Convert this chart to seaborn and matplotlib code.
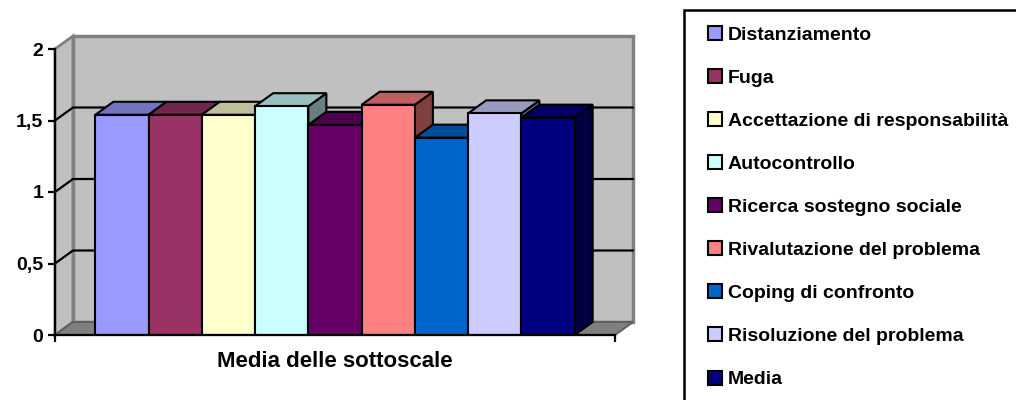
import numpy as np
import pandas as pd
import matplotlib
matplotlib.use("Agg")
import matplotlib.pyplot as plt
import seaborn as sns
from matplotlib.patches import Polygon, Rectangle, Patch
from matplotlib.legend_handler import HandlerPatch
from matplotlib import colors as mcolors

# ---------------- data ----------------
categories = ["Distanziamento", "Fuga", "Accettazione di responsabilità",
              "Autocontrollo", "Ricerca sostegno sociale",
              "Rivalutazione del problema", "Coping di confronto",
              "Risoluzione del problema", "Media"]
values = [1.54, 1.54, 1.54, 1.60, 1.47, 1.61, 1.38, 1.55, 1.52]
bar_colors = ["#9999FF", "#993366", "#FFFFCC", "#CCFFFF", "#660066",
              "#FF8080", "#0066CC", "#CCCCFF", "#000080"]
group_label = "Media delle sottoscale"
y_ticks = [0, 0.5, 1, 1.5, 2]
y_tick_labels = ["0", "0,5", "1", "1,5", "2"]

# ---------------- style ----------------
sns.set_theme(style="white")
plt.rcParams["font.family"] = ["Liberation Sans", "DejaVu Sans"]
plt.rcParams["font.weight"] = "bold"
for k in ["text.color", "axes.labelcolor", "xtick.color", "ytick.color"]:
    plt.rcParams[k] = "black"
FS_TICK = 14
FS_XLAB = 16
FS_LEG = 14

W, H = 1016, 400
fig = plt.figure(figsize=(W / 100, H / 100), dpi=100)
fig.patch.set_facecolor("white")

# front plane of the 3D box in pixels
px0, px1 = 55, 615
py_top, py_bot = 49, 335
ax = fig.add_axes([px0 / W, (H - py_bot) / H, (px1 - px0) / W, (py_bot - py_top) / H])
ax.set_facecolor("none")

df = pd.DataFrame({"group": [group_label] * len(values),
                   "value": values,
                   "category": categories})
sns.barplot(data=df, x="group", y="value", hue="category",
            hue_order=categories, palette=dict(zip(categories, bar_colors)),
            saturation=1, width=0.856, errorbar=None, dodge=True,
            edgecolor="black", linewidth=1.5, legend=False, ax=ax)
bars = list(ax.patches)

XL = (-0.5, 0.5)
YL = (0, 2)
ax.set_xlim(*XL)
ax.set_ylim(*YL)

# depth offset (data units)
ddx = 18 / (px1 - px0) * (XL[1] - XL[0])
ddy = 13 / (py_bot - py_top) * (YL[1] - YL[0])

wall_c = "#C0C0C0"
wall_edge = "#808080"
floor_c = "#808080"

# left side wall
ax.add_patch(Polygon([(XL[0], YL[0]), (XL[0] + ddx, YL[0] + ddy),
                      (XL[0] + ddx, YL[1] + ddy), (XL[0], YL[1])],
                     closed=True, facecolor=wall_c, edgecolor=wall_edge,
                     linewidth=2, zorder=0.5, clip_on=False))
# back wall
ax.add_patch(Rectangle((XL[0] + ddx, YL[0] + ddy), XL[1] - XL[0], YL[1] - YL[0],
                       facecolor=wall_c, edgecolor=wall_edge, linewidth=2.5,
                       zorder=0.5, clip_on=False))
# floor
ax.add_patch(Polygon([(XL[0], YL[0]), (XL[1], YL[0]),
                      (XL[1] + ddx, YL[0] + ddy), (XL[0] + ddx, YL[0] + ddy)],
                     closed=True, facecolor=floor_c, edgecolor="#606060",
                     linewidth=1.5, zorder=0.55, clip_on=False))
# gridlines on walls
for t in y_ticks[1:-1]:
    ax.plot([XL[0], XL[0] + ddx, XL[1] + ddx], [t, t + ddy, t + ddy],
            color="black", linewidth=1.6, zorder=0.6, clip_on=False)

# 3D faces of bars
for i, p in enumerate(bars):
    z = 3 + i * 0.1
    p.set_zorder(z)
    xl = p.get_x()
    w = p.get_width()
    h = p.get_height()
    fc = np.array(mcolors.to_rgb(p.get_facecolor()))
    top = Polygon([(xl, h), (xl + w, h), (xl + w + ddx, h + ddy), (xl + ddx, h + ddy)],
                  closed=True, facecolor=fc * 0.75, edgecolor="black",
                  linewidth=1.5, zorder=z - 0.01, clip_on=False)
    side = Polygon([(xl + w, 0), (xl + w + ddx, ddy), (xl + w + ddx, h + ddy), (xl + w, h)],
                   closed=True, facecolor=fc * 0.5, edgecolor="black",
                   linewidth=1.5, zorder=z - 0.02, clip_on=False)
    ax.add_patch(top)
    ax.add_patch(side)

# axes styling
for s in ["top", "right"]:
    ax.spines[s].set_visible(False)
for s in ["left", "bottom"]:
    ax.spines[s].set_color("black")
    ax.spines[s].set_linewidth(1.6)
    ax.spines[s].set_zorder(10)

ax.set_yticks(y_ticks)
ax.set_yticklabels(y_tick_labels, fontsize=FS_TICK, fontweight="bold")
ax.tick_params(axis="y", direction="out", length=5, width=1.6, pad=3.5,
               color="black", left=True)
ax.set_xticks([0])
ax.set_xticklabels([group_label], fontsize=FS_XLAB, fontweight="bold")
ax.set_xticks([XL[0], XL[1]], minor=True)
ax.tick_params(axis="x", which="major", length=0, pad=11.5)
ax.tick_params(axis="x", which="minor", direction="out", length=5, width=1.6,
               color="black", bottom=True)
ax.set_xlabel("")
ax.set_ylabel("")
ax.grid(False)

# legend frame (runs past the right and bottom edges of the figure)
fig.patches.append(Rectangle((684 / W, -0.05), 0.5, (H - 10) / H + 0.05,
                             transform=fig.transFigure, fill=False,
                             edgecolor="black", linewidth=1.8, clip_on=False))

def square_patch(legend, orig_handle, xdescent, ydescent, width, height, fontsize):
    return Rectangle((-xdescent + width - height, -ydescent), height, height)

handles = [Patch(facecolor=c, edgecolor="black", linewidth=1.5) for c in bar_colors]
leg = fig.legend(handles, categories, loc="upper left",
                 bbox_to_anchor=(708 / W, (H - 26) / H),
                 bbox_transform=fig.transFigure,
                 frameon=False, borderaxespad=0, borderpad=0,
                 prop={"weight": "bold", "size": FS_LEG},
                 handlelength=0.73, handleheight=0.73, handletextpad=0.28,
                 labelspacing=1.30,
                 handler_map={Patch: HandlerPatch(patch_func=square_patch)})
for t in leg.get_texts():
    t.set_color("black")

fig.savefig("out.png", dpi=100)
